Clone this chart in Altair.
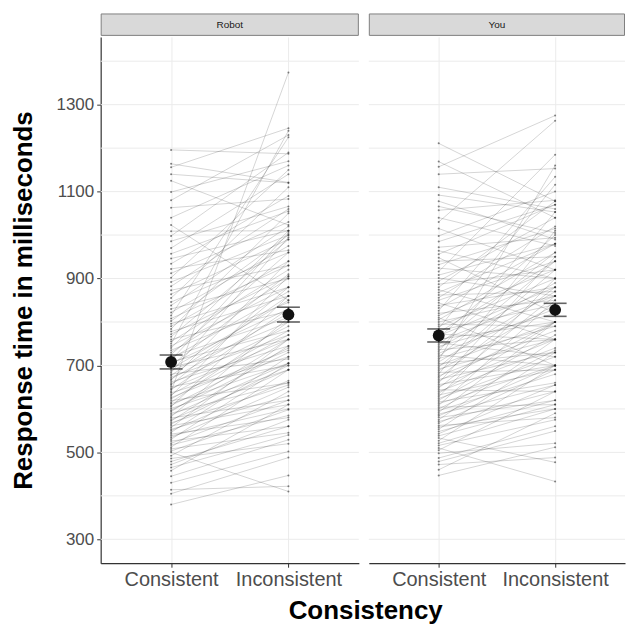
import altair as alt
import pandas as pd

conditions = ["Consistent", "Inconsistent"]
panels = ["Robot", "You"]

robot_consistent = [
    380, 405, 414, 430, 445, 458, 465, 472, 479, 486,
    492, 500, 503, 508, 512, 517, 521, 526, 530, 534,
    538, 542, 546, 550, 553, 557, 561, 565, 568, 572,
    575, 579, 582, 586, 590, 594, 597, 601, 605, 608,
    612, 615, 619, 623, 626, 630, 633, 637, 640, 644,
    647, 651, 655, 658, 662, 666, 669, 673, 677, 680,
    684, 688, 692, 696, 700, 704, 708, 712, 716, 720,
    725, 730, 735, 740, 745, 750, 755, 760, 766, 772,
    778, 784, 790, 796, 802, 808, 815, 822, 830, 838,
    846, 855, 864, 873, 882, 892, 902, 912, 922, 934,
    946, 957, 970, 986, 998, 1009, 1023, 1040, 1063, 1080,
    1099, 1125, 1140, 1156, 1164, 1196]
robot_inconsistent = [
    447, 488, 422, 502, 529, 610, 540, 575, 560, 520,
    640, 410, 598, 545, 690, 585, 620, 560, 705, 650,
    600, 580, 720, 665, 630, 760, 610, 700, 655, 745,
    690, 620, 810, 705, 660, 760, 730, 690, 860, 740,
    705, 800, 660, 770, 735, 905, 780, 720, 1374, 830,
    760, 700, 880, 790, 745, 940, 820, 770, 860, 715,
    995, 800, 850, 760, 910, 830, 780, 1005, 870, 810,
    960, 900, 845, 1010, 880, 1240, 920, 825, 990, 905,
    860, 1050, 940, 880, 1000, 930, 1225, 975, 900, 1020,
    960, 1110, 990, 930, 1060, 1000, 1150, 1030, 965, 1090,
    1010, 1055, 1140, 1066, 1190, 1010, 850, 1160, 1083, 1230,
    1170, 1023, 1120, 1246, 1121, 1187]
you_consistent = [
    447, 460, 472, 479, 487, 498, 505, 510, 516, 521,
    527, 533, 538, 543, 548, 553, 558, 562, 567, 571,
    575, 580, 584, 588, 592, 596, 600, 604, 608, 612,
    616, 620, 624, 628, 632, 636, 640, 644, 648, 652,
    656, 660, 664, 668, 672, 676, 680, 684, 688, 692,
    696, 700, 704, 708, 712, 716, 720, 724, 728, 732,
    736, 740, 744, 748, 752, 756, 760, 764, 768, 772,
    776, 780, 785, 790, 795, 800, 805, 810, 815, 820,
    826, 832, 838, 844, 850, 856, 862, 868, 874, 880,
    887, 894, 901, 908, 916, 924, 932, 940, 948, 956,
    964, 972, 985, 998, 1015, 1030, 1040, 1057, 1066, 1078,
    1092, 1110, 1140, 1157, 1169, 1211]
you_inconsistent = [
    512, 590, 488, 549, 560, 521, 640, 433, 575, 600,
    700, 477, 610, 655, 620, 730, 600, 580, 690, 640,
    760, 620, 700, 655, 800, 680, 735, 610, 850, 700,
    660, 770, 720, 900, 690, 800, 740, 640, 860, 760,
    700, 950, 800, 730, 880, 780, 1010, 690, 840, 760,
    920, 800, 730, 870, 1160, 790, 940, 700, 830, 1053,
    760, 890, 820, 960, 720, 860, 800, 1000, 880, 760,
    940, 840, 1116, 900, 790, 860, 960, 700, 920, 850,
    1134, 980, 880, 760, 940, 1020, 870, 980, 800, 1078,
    920, 1040, 860, 980, 1185, 900, 1015, 950, 820, 1070,
    900, 994, 1070, 1100, 920, 1263, 975, 1080, 1005, 990,
    1053, 1060, 1153, 1275, 1040, 1078]

mean_robot = [708, 817]
mean_you = [769, 828]
se_robot = [16, 17]
se_you = [15, 15]

y_labels = [300, 500, 700, 900, 1100, 1300]
grid_values = [300, 400, 500, 600, 700, 800, 900, 1000, 1100, 1200, 1300, 1400]

FONT = "Liberation Sans"
W_LEFT, W_RIGHT, H = 259, 257, 528
YDOM = [245, 1456]


def long_df(name, cons, incons):
    rows = []
    for i, (c, v) in enumerate(zip(cons, incons)):
        rows.append({"panel": name, "subject": i, "cond": conditions[0], "rt": c})
        rows.append({"panel": name, "subject": i, "cond": conditions[1], "rt": v})
    return pd.DataFrame(rows)


def summary_df(name, means, ses):
    return pd.DataFrame({
        "panel": name,
        "cond": conditions,
        "mean": means,
        "lo": [m - s for m, s in zip(means, ses)],
        "hi": [m + s for m, s in zip(means, ses)],
    })


def make_panel(name, df, sm, width, show_y):
    yscale = alt.Scale(domain=YDOM, nice=False, zero=False)
    if show_y:
        yaxis = alt.Axis(values=y_labels, grid=False, format="d",
                         title="Response time in milliseconds",
                         titleFontSize=26, titleFontWeight="bold", titleColor="#000000",
                         titleFont=FONT, titlePadding=20,
                         labelFontSize=17, labelColor="#4d4d4d", labelFont=FONT,
                         labelPadding=3, tickSize=4, tickColor="#333333",
                         domainColor="#333333", domainWidth=1.2)
    else:
        yaxis = None
    xaxis = alt.Axis(title=None, grid=True, gridColor="#ebebeb",
                     labelAngle=0, labelFontSize=20, labelColor="#4d4d4d", labelFont=FONT,
                     labelPadding=2, tickSize=4, tickColor="#333333",
                     domainColor="#333333", domainWidth=1.2)
    xscale = alt.Scale(type="point", padding=0.6, domain=conditions)

    grid = alt.Chart(pd.DataFrame({"g": grid_values})).mark_rule(
        color="#ebebeb", strokeWidth=1).encode(
        y=alt.Y("g:Q", scale=yscale, axis=yaxis))

    base = alt.Chart(df)
    lines = base.mark_line(color="#000000", opacity=0.17, strokeWidth=1).encode(
        x=alt.X("cond:N", scale=xscale, axis=xaxis, sort=conditions),
        y=alt.Y("rt:Q", scale=yscale, axis=yaxis),
        detail="subject:N")
    dots = base.mark_circle(color="#222222", opacity=0.55, size=4).encode(
        x=alt.X("cond:N", scale=xscale, axis=xaxis, sort=conditions),
        y=alt.Y("rt:Q", scale=yscale, axis=yaxis))

    sbase = alt.Chart(sm)
    err = sbase.mark_rule(color="#222222", strokeWidth=1.5).encode(
        x=alt.X("cond:N", scale=xscale, axis=xaxis, sort=conditions),
        y=alt.Y("lo:Q", scale=yscale, axis=yaxis), y2="hi:Q")
    cap_lo = sbase.mark_tick(color="#222222", thickness=1.6, size=23).encode(
        x=alt.X("cond:N", scale=xscale, axis=xaxis, sort=conditions),
        y=alt.Y("lo:Q", scale=yscale, axis=yaxis))
    cap_hi = sbase.mark_tick(color="#222222", thickness=1.6, size=23).encode(
        x=alt.X("cond:N", scale=xscale, axis=xaxis, sort=conditions),
        y=alt.Y("hi:Q", scale=yscale, axis=yaxis))
    means = sbase.mark_circle(color="#111111", opacity=1, size=140).encode(
        x=alt.X("cond:N", scale=xscale, axis=xaxis, sort=conditions),
        y=alt.Y("mean:Q", scale=yscale, axis=yaxis))

    sdf = pd.DataFrame({"panel": [name]})
    strip = alt.Chart(sdf).mark_rect(fill="#d9d9d9", stroke="#7f7f7f", strokeWidth=1).encode(
        x=alt.value(0.5), x2=alt.value(width - 0.5), y=alt.value(-23), y2=alt.value(-1.5))
    strip_text = alt.Chart(sdf).mark_text(fontSize=10, color="#1a1a1a", font=FONT).encode(
        x=alt.value(width / 2), y=alt.value(-12), text="panel:N")

    return alt.layer(grid, lines, dots, err, cap_lo, cap_hi, means, strip, strip_text).properties(
        width=width, height=H)


left = make_panel("Robot", long_df("Robot", robot_consistent, robot_inconsistent),
                  summary_df("Robot", mean_robot, se_robot), W_LEFT, True)
right = make_panel("You", long_df("You", you_consistent, you_inconsistent),
                   summary_df("You", mean_you, se_you), W_RIGHT, False)

chart = alt.hconcat(left, right, spacing=8).properties(
    title=alt.TitleParams("Consistency", orient="bottom", anchor="middle", dx=48,
                          fontSize=26, fontWeight="bold", color="#000000", font=FONT,
                          offset=9),
    padding={"left": 10, "top": 12, "right": 0, "bottom": 2},
    background="white",
).configure_view(stroke=None)

chart.save("out.html", embed_options={"renderer": "svg", "actions": False})
